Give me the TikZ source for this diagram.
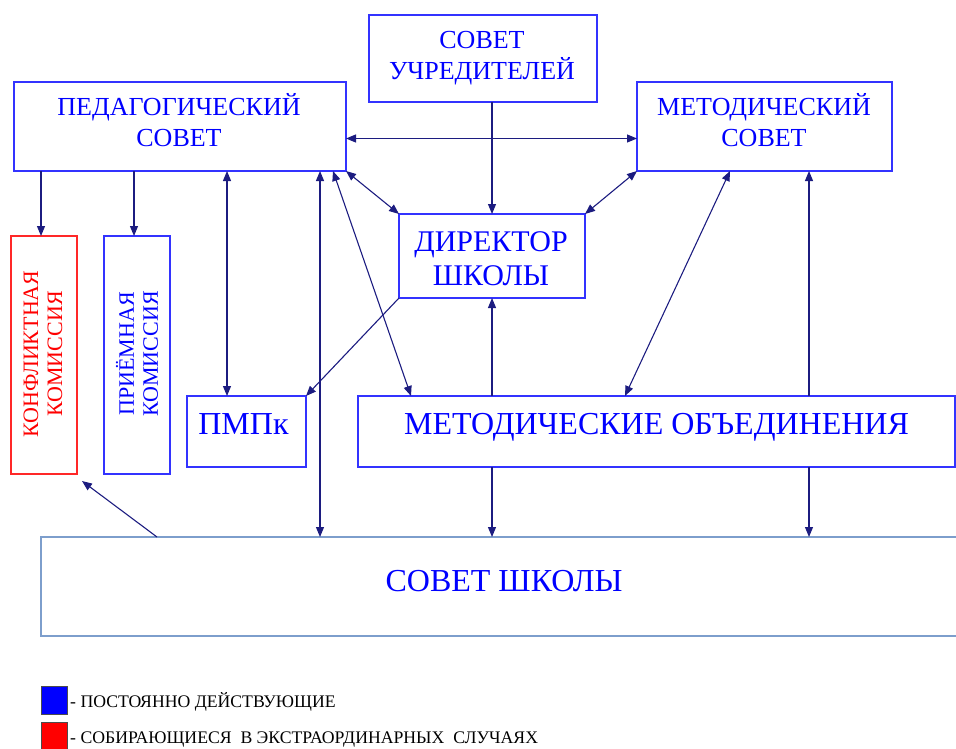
\documentclass[tikz,border=0pt]{standalone}
\usepackage{fontspec}
\setmainfont{Liberation Serif}
\usetikzlibrary{arrows.meta,calc}
\definecolor{navy}{RGB}{28,28,128}
\definecolor{boxblue}{RGB}{51,51,255}
\definecolor{txtblue}{RGB}{0,0,255}
\definecolor{boxred}{RGB}{255,40,40}
\definecolor{steel}{RGB}{125,158,204}
\begin{document}
\begin{tikzpicture}[x=1pt,y=-1pt,
  box/.style={draw=boxblue, line width=1.4pt, inner sep=0pt, outer sep=0pt},
  redbox/.style={draw=boxred, line width=1.4pt, inner sep=0pt, outer sep=0pt},
  txt/.style={text=txtblue, align=center, inner sep=0pt},
  arr/.style={draw=navy, line width=1.1pt, -{Triangle[length=10pt,width=8pt]}},
  darr/.style={draw=navy, line width=1.1pt, {Triangle[length=10pt,width=8pt]}-{Triangle[length=10pt,width=8pt]}},
  legsq/.style={draw=black!70, line width=0.6pt, minimum width=26pt, minimum height=28pt, inner sep=0pt}]
\useasboundingbox (0,0) rectangle (956,749);
% boxes
\node[box, minimum width=228pt, minimum height=87pt] (uch) at (483,58.5) {};
\node[box, minimum width=332pt, minimum height=89pt] (ped) at (180,126.5) {};
\node[box, minimum width=255pt, minimum height=89pt] (met) at (764.5,126.5) {};
\node[box, minimum width=186pt, minimum height=84pt] (dir) at (492,256) {};
\node[redbox, minimum width=66pt, minimum height=238pt] (konf) at (44,355) {};
\node[box, minimum width=66pt, minimum height=238pt] (prie) at (137,355) {};
\node[box, minimum width=119pt, minimum height=71pt] (pmpk) at (246.5,431.5) {};
\node[box, minimum width=597pt, minimum height=71pt] (mo) at (656.5,431.5) {};
\node[draw=steel, line width=2pt, inner sep=0pt, outer sep=0pt, minimum width=930pt, minimum height=99pt] (ss) at (506,586.5) {};
% texts
\node[txt, font=\fontsize{26}{31}\selectfont] (uch-t) at (482,58) {СОВЕТ\\УЧРЕДИТЕЛЕЙ};
\node[txt, font=\fontsize{26}{31}\selectfont] (ped-t) at (179,120.5) {ПЕДАГОГИЧЕСКИЙ\\СОВЕТ};
\node[txt, font=\fontsize{26}{31}\selectfont] (met-t) at (764,120.5) {МЕТОДИЧЕСКИЙ\\СОВЕТ};
\node[txt, font=\fontsize{30}{34}\selectfont] (dir-t) at (491,259) {ДИРЕКТОР\\ШКОЛЫ};
\node[txt, text=red, rotate=90, font=\fontsize{22}{24}\selectfont] (konf-t) at (43,354) {КОНФЛИКТНАЯ\\КОМИССИЯ};
\node[txt, rotate=90, font=\fontsize{22}{24}\selectfont] (prie-t) at (137,354) {ПРИЁМНАЯ\\КОМИССИЯ};
\node[txt, font=\fontsize{32}{36}\selectfont] (pmpk-t) at (243.5,424) {ПМПк};
\node[txt, font=\fontsize{32}{36}\selectfont] (mo-t) at (656.5,427) {МЕТОДИЧЕСКИЕ ОБЪЕДИНЕНИЯ};
\node[txt, font=\fontsize{32}{36}\selectfont] (ss-t) at (504,581) {СОВЕТ ШКОЛЫ};
% legend
\node[legsq, fill=blue] (lb) at (54,700) {};
\node[legsq, fill=red] (lr) at (54,736) {};
\node[anchor=west, inner sep=0pt, font=\fontsize{17.7}{20}\selectfont] (lb-t) at (70,702) {- ПОСТОЯННО ДЕЙСТВУЮЩИЕ};
\node[anchor=west, inner sep=0pt, font=\fontsize{17.7}{20}\selectfont] (lr-t) at (70,740) {- СОБИРАЮЩИЕСЯ\ \ В ЭКСТРАОРДИНАРНЫХ\ \ СЛУЧАЯХ};
% connectors
\draw[arr] ([xshift=-3pt]konf.north |- ped.south) -- ([xshift=-3pt]konf.north);
\draw[arr] ([xshift=-3pt]prie.north |- ped.south) -- ([xshift=-3pt]prie.north);
\draw[darr] ([xshift=-19.5pt]pmpk.north |- ped.south) -- ([xshift=-19.5pt]pmpk.north);
\draw[darr] ([xshift=-26pt]ped.south east) -- ([xshift=-26pt]ped.south east |- ss.north);
\draw[darr] ([xshift=-13pt]ped.south east) -- ([xshift=53pt]mo.north west);
\draw[darr] (ped.south east) -- (dir.north west);
\draw[darr] ([yshift=-12pt]ped.east) -- ([yshift=-12pt]met.west);
\draw[arr] (uch.south -| dir.north) -- (dir.north);
\draw[darr] (met.south west) -- (dir.north east);
\draw[darr] ([xshift=93pt]met.south west) -- ([xshift=267pt]mo.north west);
\draw[arr] ([xshift=172pt]met.south west |- mo.north) -- ([xshift=172pt]met.south west);
\draw[arr] (dir.south |- mo.north) -- (dir.south);
\draw[arr] (dir.south west) -- (pmpk.north east);
\draw[arr] (dir.south |- mo.south) -- (dir.south |- ss.north);
\draw[arr] ([xshift=172pt]met.south west |- mo.south) -- ([xshift=172pt]met.south west |- ss.north);
\draw[arr] ([xshift=116pt]ss.north west) -- ([xshift=5pt,yshift=-7pt]konf.south east);
\end{tikzpicture}
\end{document}
